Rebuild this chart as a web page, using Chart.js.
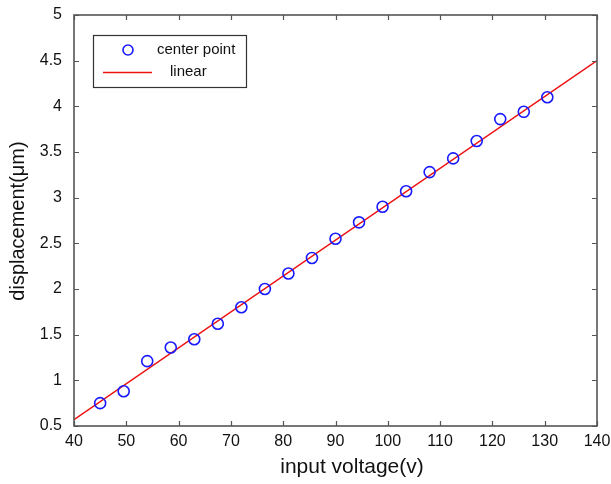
<!DOCTYPE html>
<html>
<head>
<meta charset="utf-8">
<script src="https://cdn.jsdelivr.net/npm/chart.js@4.4.1/dist/chart.umd.min.js"></script>
<style>
  html, body { margin: 0; padding: 0; background: #fff; }
  #wrap { width: 611px; height: 484px; }
</style>
</head>
<body>
<div id="wrap"><canvas id="dispChart" width="611" height="484"></canvas></div>
<script>
// Measured points: input voltage (V) vs displacement (um)
const voltage = [45, 49.5, 54, 58.5, 63, 67.5, 72, 76.5, 81, 85.5, 90, 94.5, 99, 103.5, 108, 112.5, 117, 121.5, 126, 130.5];
const displacement = [0.75, 0.88, 1.21, 1.36, 1.45, 1.62, 1.80, 2.00, 2.17, 2.34, 2.55, 2.73, 2.90, 3.07, 3.28, 3.43, 3.62, 3.86, 3.94, 4.10];

// Linear fit end points
const fitX = [40, 140];
const fitY = [0.57, 4.5];

const xTicks = [40, 50, 60, 70, 80, 90, 100, 110, 120, 130, 140];
const yTicks = [0.5, 1, 1.5, 2, 2.5, 3, 3.5, 4, 4.5, 5];

const xTitle = 'input voltage(v)';
const yTitle = 'displacement(\u03bcm)';

const FONT = 'Liberation Sans, Arial, sans-serif';
const AXIS_COLOR = '#555';

// Box around the plot with inward ticks on all four sides (MATLAB style)
const boxTicks = {
  id: 'boxTicks',
  afterDatasetsDraw(chart) {
    const { ctx, chartArea: a, scales } = chart;
    const len = 5;
    ctx.save();
    ctx.strokeStyle = AXIS_COLOR;
    ctx.lineWidth = 1.2;
    ctx.beginPath();
    xTicks.forEach(v => {
      const px = Math.round(scales.x.getPixelForValue(v)) + 0.5;
      ctx.moveTo(px, a.bottom); ctx.lineTo(px, a.bottom - len);
      ctx.moveTo(px, a.top); ctx.lineTo(px, a.top + len);
    });
    yTicks.forEach(v => {
      const py = Math.round(scales.y.getPixelForValue(v)) + 0.5;
      ctx.moveTo(a.left, py); ctx.lineTo(a.left + len, py);
      ctx.moveTo(a.right, py); ctx.lineTo(a.right - len, py);
    });
    ctx.stroke();
    ctx.lineWidth = 1.6;
    ctx.strokeRect(a.left, a.top, a.right - a.left, a.bottom - a.top);
    ctx.restore();
  }
};

// Axis titles, placed by hand
const axisTitles = {
  id: 'axisTitles',
  afterDraw(chart) {
    const { ctx } = chart;
    ctx.save();
    ctx.fillStyle = '#111';
    ctx.font = '21px ' + FONT;
    ctx.textAlign = 'center';
    ctx.textBaseline = 'middle';
    ctx.fillText(xTitle, 352, 467);
    ctx.translate(18, 221);
    ctx.rotate(-Math.PI / 2);
    ctx.font = '20px ' + FONT;
    ctx.fillText(yTitle, 0, 0);
    ctx.restore();
  }
};

// Boxed legend in the upper left corner
const boxLegend = {
  id: 'boxLegend',
  afterDraw(chart) {
    const { ctx } = chart;
    const x = 93, y = 35, w = 153, h = 52;
    ctx.save();
    ctx.fillStyle = '#fff';
    ctx.fillRect(x, y, w, h);
    ctx.strokeStyle = '#333';
    ctx.lineWidth = 1.2;
    ctx.strokeRect(x + 0.5, y + 0.5, w, h);
    const pt = chart.data.datasets[0];
    ctx.strokeStyle = pt.borderColor;
    ctx.lineWidth = pt.borderWidth;
    ctx.beginPath();
    ctx.arc(128, 50, pt.pointRadius - 0.5, 0, Math.PI * 2);
    ctx.stroke();
    const ln = chart.data.datasets[1];
    ctx.strokeStyle = ln.borderColor;
    ctx.lineWidth = ln.borderWidth;
    ctx.beginPath();
    ctx.moveTo(103, 72.5); ctx.lineTo(152, 72.5);
    ctx.stroke();
    ctx.fillStyle = '#111';
    ctx.font = '15px ' + FONT;
    ctx.textBaseline = 'middle';
    ctx.fillText(pt.label, 157, 50);
    ctx.fillText(ln.label, 170, 72);
    ctx.restore();
  }
};

new Chart(document.getElementById('dispChart'), {
  type: 'scatter',
  data: {
    datasets: [
      {
        label: 'center point',
        data: voltage.map((v, i) => ({ x: v, y: displacement[i] })),
        borderColor: '#1a1aff',
        backgroundColor: 'rgba(0,0,0,0)',
        borderWidth: 1.6,
        pointRadius: 5.5,
        showLine: false,
        order: 1
      },
      {
        label: 'linear',
        data: fitX.map((v, i) => ({ x: v, y: fitY[i] })),
        borderColor: '#ee1111',
        borderWidth: 1.4,
        pointRadius: 0,
        showLine: true,
        order: 2
      }
    ]
  },
  options: {
    responsive: false,
    animation: false,
    layout: { padding: { left: 0, top: 15, right: 0, bottom: 0 } },
    plugins: { legend: { display: false }, tooltip: { enabled: false } },
    scales: {
      x: {
        type: 'linear',
        min: 40, max: 140,
        afterBuildTicks: s => { s.ticks = xTicks.map(v => ({ value: v })); },
        afterFit: s => { s.height = 58; s.paddingLeft = 0; s.paddingRight = 14; },
        grid: { display: false, drawTicks: false },
        border: { display: false },
        ticks: { color: '#111', font: { family: FONT, size: 16 }, padding: 6, maxRotation: 0 }
      },
      y: {
        type: 'linear',
        min: 0.5, max: 5,
        afterBuildTicks: s => { s.ticks = yTicks.map(v => ({ value: v })); },
        afterFit: s => { s.width = 74; s.paddingTop = 0; s.paddingBottom = 0; },
        grid: { display: false, drawTicks: false },
        border: { display: false },
        ticks: { color: '#111', font: { family: FONT, size: 16 }, padding: 12, callback: v => String(v) }
      }
    }
  },
  plugins: [boxTicks, boxLegend, axisTitles]
});
</script>
</body>
</html>
